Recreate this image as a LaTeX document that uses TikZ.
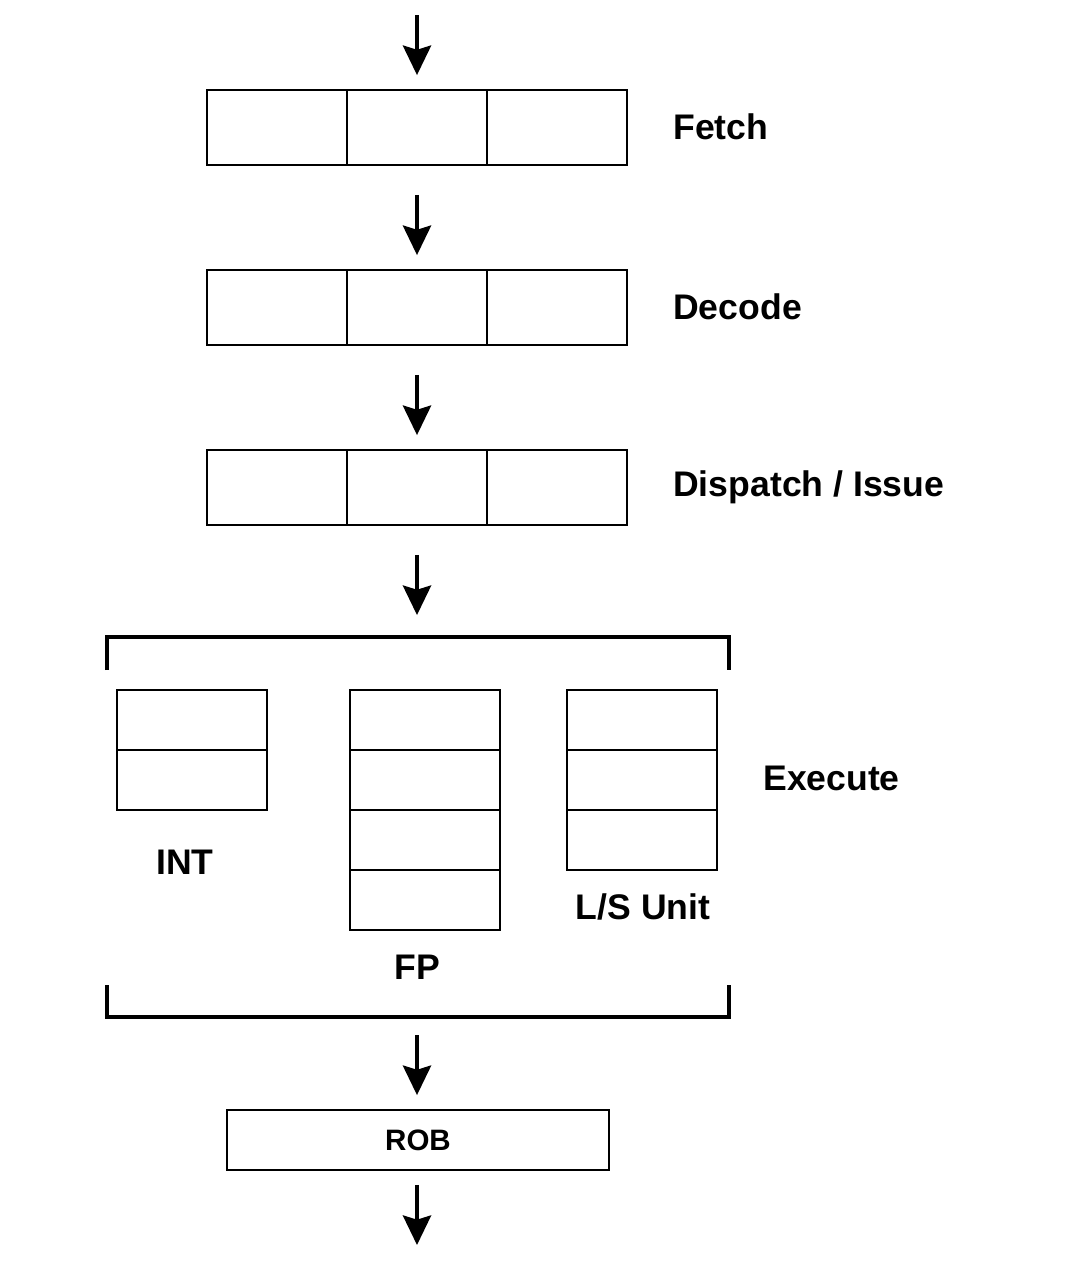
\documentclass[tikz,border=0pt]{standalone}
\usepackage{fontspec}
\setmainfont{Liberation Sans}
\usetikzlibrary{arrows.meta,positioning}
\tikzset{
  cell/.style={draw=black, line width=0.9pt, minimum width=3.5cm, minimum height=1.875cm,
    inner sep=0pt, outer sep=0pt},
  ecell/.style={cell, minimum width=3.75cm, minimum height=1.5cm},
  stage/.style={font=\fontsize{25.3}{30}\selectfont\bfseries, anchor=west, inner sep=0pt},
  unit/.style={font=\fontsize{25.3}{30}\selectfont\bfseries, inner sep=0pt},
  flow/.style={-{Stealth[length=21pt,width=20pt,inset=3pt]}, line width=2.8pt},
  brk/.style={line width=2.3pt},
}
\begin{document}
\begin{tikzpicture}[x=0.025cm,y=-0.025cm]
  \useasboundingbox (0,0) rectangle (1081,1271);
  % pipeline rows
  \foreach \row/\y in {fetch/127.5, decode/307.5, disp/487.5} {
    \foreach \x [count=\c] in {277,417,557}
      \node[cell] (\row\c) at (\x,\y) {};
  }
  \node[stage] (lfetch) at (673,127) {Fetch};
  \node[stage] (ldecode) at (673,307) {Decode};
  \node[stage] (ldisp) at (673,487) {Dispatch / Issue};
  % execute units
  \foreach \y [count=\c] in {720,780}
    \node[ecell] (int\c) at (192,\y) {};
  \foreach \y [count=\c] in {720,780,840,900}
    \node[ecell] (fp\c) at (425,\y) {};
  \foreach \y [count=\c] in {720,780,840}
    \node[ecell] (ls\c) at (642,\y) {};
  \node[unit] (lint) at (185,862) {INT};
  \node[unit] (lfp) at (417,967) {FP};
  \node[unit] (lls) at (643,907) {L/S Unit};
  \node[stage] (lexec) at (763,778) {Execute};
  % brackets
  \draw[brk] (107,670) -- (107,637) -- (729,637) -- (729,670);
  \draw[brk] (107,985) -- (107,1017) -- (729,1017) -- (729,985);
  \coordinate (extop) at (417,637);
  \coordinate (exbot) at (417,1017);
  % reorder buffer
  \node[cell, minimum width=9.55cm, minimum height=1.5cm,
    font=\fontsize{21}{25}\selectfont\bfseries] (rob) at (418,1140) {ROB};
  % arrows
  \coordinate (in) at (417,15);
  \coordinate (out) at (417,1245);
  \draw[flow, shorten >=10.6pt] (in) -- (fetch2.north);
  \draw[flow, shorten <=21.3pt, shorten >=10.6pt] (fetch2.south) -- (decode2.north);
  \draw[flow, shorten <=21.3pt, shorten >=10.6pt] (decode2.south) -- (disp2.north);
  \draw[flow, shorten <=21.3pt, shorten >=15.6pt] (disp2.south) -- (extop);
  \draw[flow, shorten <=12.8pt, shorten >=10.6pt] (exbot) -- (exbot |- rob.north);
  \draw[flow, shorten <=10.6pt] (out |- rob.south) -- (out);
\end{tikzpicture}
\end{document}
